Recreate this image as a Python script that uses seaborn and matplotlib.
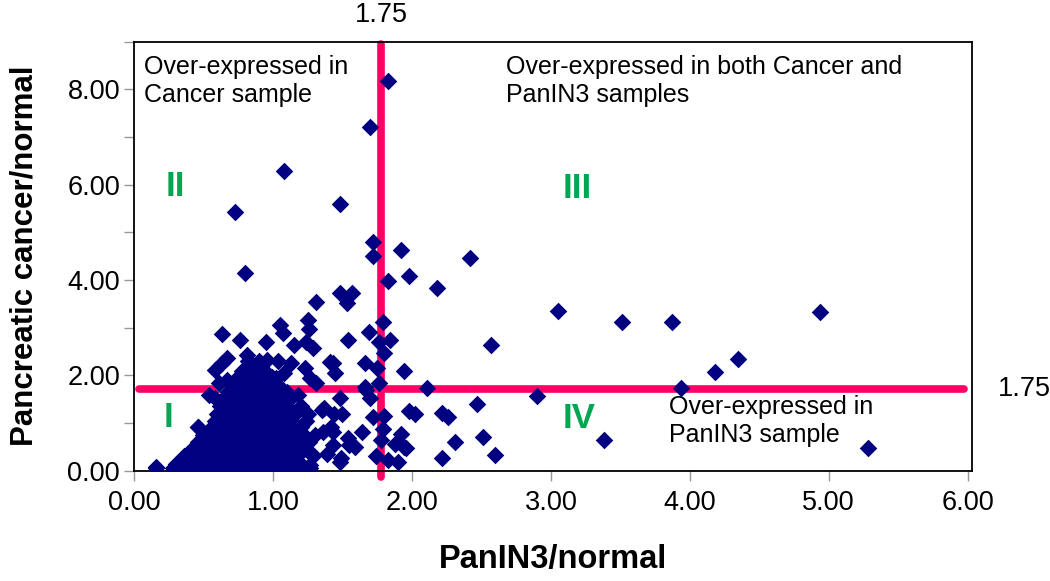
import numpy as np
import pandas as pd
import seaborn as sns
import matplotlib.pyplot as plt
from matplotlib.ticker import MultipleLocator, FormatStrFormatter

# scattered points (PanIN3/normal, Pancreatic cancer/normal)
panin3 = [1.83, 1.70, 1.08, 0.73, 1.48, 1.72, 1.72, 1.92, 0.80, 1.83, 1.98, 1.48, 1.57,
          2.42, 2.18, 1.53, 3.05, 3.51, 3.87, 4.94, 2.57, 1.79, 1.84, 1.76, 1.80, 1.75,
          1.94, 1.76, 2.11, 2.90, 2.47, 1.98, 2.02, 2.22, 2.26, 1.80, 1.72, 1.79, 1.92,
          1.78, 1.94, 1.88, 2.31, 2.51, 2.60, 2.22, 3.38, 1.74, 1.83, 1.90, 4.35, 4.18,
          3.94, 5.28, 1.69, 1.54, 1.66, 1.43, 1.45, 1.66, 1.70, 1.48, 1.50, 1.64, 1.55,
          1.96, 1.43, 1.48, 1.44, 1.43, 1.31, 1.25, 1.26, 1.05, 1.07, 0.63, 0.76, 0.95,
          1.15, 1.24, 1.29, 0.81, 0.67, 0.63, 0.96, 0.87, 0.58, 1.13, 1.23, 1.41, 1.08,
          1.27, 1.31, 0.61, 0.67, 0.54, 0.58, 0.77, 0.87, 0.99, 1.08, 1.18, 1.37, 1.67,
          0.46, 1.42, 1.36, 1.39, 1.29, 1.27, 1.17, 0.16, 1.35, 1.54, 1.59, 1.49]
cancer = [8.17, 7.21, 6.28, 5.43, 5.60, 4.80, 4.51, 4.63, 4.14, 3.99, 4.09, 3.72, 3.72,
          4.46, 3.84, 3.51, 3.35, 3.12, 3.12, 3.32, 2.64, 3.12, 2.75, 2.70, 2.48, 2.16,
          2.10, 1.83, 1.73, 1.57, 1.40, 1.25, 1.19, 1.21, 1.12, 1.15, 1.13, 0.87, 0.78,
          0.64, 0.50, 0.57, 0.61, 0.71, 0.33, 0.27, 0.64, 0.31, 0.22, 0.18, 2.34, 2.07,
          1.74, 0.48, 2.91, 2.74, 2.27, 2.25, 2.04, 1.76, 1.52, 1.52, 1.20, 0.82, 0.55,
          0.47, 0.54, 0.19, 1.20, 0.82, 3.54, 3.16, 2.98, 3.05, 2.88, 2.87, 2.75, 2.70,
          2.64, 2.70, 2.57, 2.43, 2.36, 2.25, 2.32, 2.15, 2.11, 2.25, 2.15, 2.29, 2.04,
          1.94, 1.83, 1.83, 1.90, 1.59, 1.52, 1.90, 1.76, 1.97, 1.62, 1.59, 1.31, 1.69,
          0.92, 0.92, 0.82, 0.36, 0.33, 0.12, 0.43, 0.08, 1.27, 0.68, 0.50, 0.26]

# dense cluster near the origin, read row by row
cluster_levels = [0.05, 0.15, 0.30, 0.45, 0.60, 0.75, 0.92, 1.05, 1.20, 1.35,
                  1.50, 1.65, 1.80, 1.95, 2.10, 2.30]
cluster_x = [
    [0.16, 0.28, 0.36, 0.44, 0.52, 0.60, 0.68, 0.76, 0.84, 0.92, 1.00, 1.08, 1.16, 1.27],
    [0.30, 0.40, 0.48, 0.56, 0.64, 0.72, 0.80, 0.88, 0.96, 1.04, 1.12, 1.20],
    [0.36, 0.44, 0.52, 0.60, 0.68, 0.76, 0.84, 0.92, 1.00, 1.08, 1.17, 1.29],
    [0.42, 0.50, 0.58, 0.66, 0.74, 0.82, 0.90, 0.98, 1.06, 1.14, 1.22],
    [0.46, 0.54, 0.62, 0.70, 0.78, 0.86, 0.94, 1.02, 1.10, 1.18, 1.26],
    [0.50, 0.58, 0.66, 0.74, 0.82, 0.90, 0.98, 1.06, 1.14, 1.22, 1.30],
    [0.46, 0.56, 0.64, 0.72, 0.80, 0.88, 0.96, 1.04, 1.12, 1.20],
    [0.58, 0.66, 0.74, 0.82, 0.90, 0.98, 1.06, 1.14, 1.24],
    [0.60, 0.68, 0.76, 0.84, 0.92, 1.00, 1.08, 1.16, 1.25],
    [0.62, 0.70, 0.78, 0.86, 0.94, 1.02, 1.10, 1.20],
    [0.64, 0.72, 0.80, 0.88, 0.96, 1.04, 1.12],
    [0.68, 0.76, 0.84, 0.92, 1.00, 1.10],
    [0.72, 0.80, 0.88, 0.96, 1.04],
    [0.74, 0.82, 0.90, 1.02],
    [0.78, 0.86, 0.94],
    [0.82, 0.90, 1.04],
]

cut_x = 1.78   # drawn position of the 1.75 cut-off
cut_y = 1.72
cut_label = '1.75'

quadrant_names = ['I', 'II', 'III', 'IV']
quadrant_pos = [(0.25, 1.11), (0.30, 5.97), (3.19, 5.93), (3.20, 1.10)]

rows = [(x, y) for y, xs in zip(cluster_levels, cluster_x) for x in xs]
df = pd.DataFrame({
    'PanIN3/normal': panin3 + [r[0] for r in rows],
    'Pancreatic cancer/normal': cancer + [r[1] for r in rows],
})

sns.set_theme(style='white')
plt.rcParams['font.family'] = ['Liberation Sans', 'DejaVu Sans']
plt.rcParams['text.color'] = 'black'
plt.rcParams['axes.labelcolor'] = 'black'

fig = plt.figure(figsize=(10.5, 5.81), dpi=100)
ax = fig.add_axes([0.1276, 0.1898, 0.798, 0.7384])

pink = '#FF0066'
green = '#00A651'

ax.axvline(cut_x, ymin=-0.015, ymax=0.995, color=pink, lw=5.5, clip_on=False, zorder=2)
ax.axhline(cut_y, xmin=0.006, xmax=0.99, color=pink, lw=5.5, zorder=2)

sns.scatterplot(data=df, x='PanIN3/normal', y='Pancreatic cancer/normal', ax=ax,
                marker='D', color='#000080', s=80, linewidth=0, zorder=3)

ax.set_xlim(0, 6.03)
ax.set_ylim(0, 9)
ax.xaxis.set_major_locator(MultipleLocator(1))
ax.yaxis.set_major_locator(MultipleLocator(2))
ax.yaxis.set_minor_locator(MultipleLocator(1))
ax.xaxis.set_major_formatter(FormatStrFormatter('%.2f'))
ax.yaxis.set_major_formatter(FormatStrFormatter('%.2f'))
ax.tick_params(axis='both', which='both', direction='out', length=7, width=1,
               color='#999999', labelsize=19.5, labelcolor='black', pad=3)
ax.tick_params(axis='x', bottom=True, pad=7)
ax.tick_params(axis='y', which='both', left=True)

for side in ax.spines.values():
    side.set_color('black')
    side.set_linewidth(1.3)

ax.set_xlabel('PanIN3/normal', fontsize=23.5, fontweight='bold', labelpad=20)
ax.set_ylabel('Pancreatic cancer/normal', fontsize=22.5, fontweight='bold')
ax.yaxis.set_label_coords(-0.113, 0.5)

for name, (qx, qy) in zip(quadrant_names, quadrant_pos):
    ax.text(qx, qy, name, color=green, fontsize=25, fontweight='bold',
            ha='center', va='center', zorder=4)

ax.text(0.07, 8.72, 'Over-expressed in\nCancer sample', fontsize=18,
        ha='left', va='top', zorder=4)
ax.text(2.68, 8.72, 'Over-expressed in both Cancer and\nPanIN3 samples', fontsize=18,
        ha='left', va='top', zorder=4)
ax.text(3.85, 1.58, 'Over-expressed in\nPanIN3 sample', fontsize=18,
        ha='left', va='top', zorder=2.5)

ax.text(cut_x, 1.062, cut_label, transform=ax.get_xaxis_transform(),
        fontsize=19.5, ha='center', va='center')
ax.text(1.031, cut_y, cut_label, transform=ax.get_yaxis_transform(),
        fontsize=19.5, ha='left', va='center')

plt.savefig('out.png', dpi=100)
